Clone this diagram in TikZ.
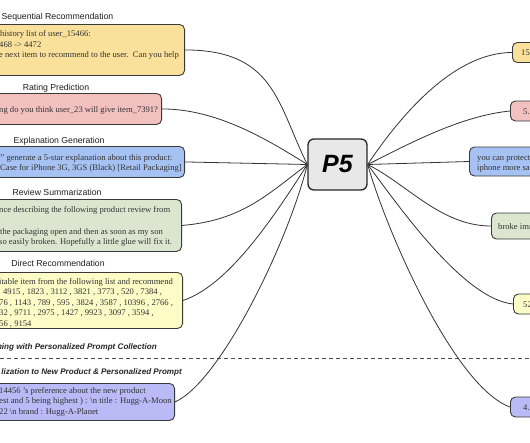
\documentclass[tikz,border=0pt]{standalone}
\usepackage{fontspec}
\setmainfont{Liberation Serif}
\setsansfont{Liberation Sans}
\definecolor{bordc}{HTML}{3A3A3A}
\definecolor{seqc}{HTML}{F9E19B}
\definecolor{ratc}{HTML}{F3C0C0}
\definecolor{expc}{HTML}{A6C2F2}
\definecolor{revc}{HTML}{DCE5CF}
\definecolor{dirc}{HTML}{FEFCC6}
\definecolor{newc}{HTML}{B9BAF6}
\definecolor{p5c}{HTML}{E8E8E8}
\begin{document}
\begin{tikzpicture}[x=1pt,y=-1pt,
  bx/.style={draw=bordc, line width=0.9pt, rounded corners=5pt, inner sep=0pt},
  ttl/.style={font=\sffamily\fontsize{8.7}{10}\selectfont, text=black!88, inner sep=0pt, anchor=base},
  bt/.style={font=\fontsize{8.6}{10}\selectfont, text=black!80, anchor=base west, inner sep=0pt},
  ital/.style={font=\sffamily\bfseries\itshape\fontsize{8.1}{9}\selectfont, text=black!85, inner sep=0pt, anchor=base east},
  cn/.style={draw=black!80, line width=0.8pt}]
\useasboundingbox (0,0) rectangle (530,442);
\clip (0,0) rectangle (530,442);
\fill[white] (0,0) rectangle (530,442);

% centre
\node[draw=black!85, line width=1.3pt, rounded corners=6pt, fill=p5c, minimum width=59pt, minimum height=51pt, inner sep=0pt,
  font=\sffamily\bfseries\itshape\fontsize{25}{25}\selectfont] (p5) at (337.5,164.5) {P5};

% dashed separator
\coordinate (dl) at (0,358);
\coordinate (dr) at (530,358);
\draw[gray!60!black, line width=0.8pt, dash pattern=on 4pt off 3pt] (dl) -- (dr);

% left boxes
\node[bx, fill=seqc, minimum width=215pt, minimum height=51pt, anchor=north east] (seq) at (185,24) {};
\node[bx, fill=ratc, minimum width=192pt, minimum height=31pt, anchor=north east] (rat) at (162,93) {};
\node[bx, fill=expc, minimum width=215pt, minimum height=31pt, anchor=north east] (exp) at (185,146) {};
\node[bx, fill=revc, minimum width=212pt, minimum height=52pt, anchor=north east] (rev) at (182,199) {};
\node[bx, fill=dirc, minimum width=213pt, minimum height=56pt, anchor=north east] (dir) at (183,272) {};
\node[bx, fill=newc, minimum width=205pt, minimum height=37pt, anchor=north east] (new) at (175,383) {};

% titles
\node[ttl] (tseq) at (57.5,19) {Sequential Recommendation};
\node[ttl] (trat) at (56,90) {Rating Prediction};
\node[ttl] (texp) at (59,143) {Explanation Generation};
\node[ttl] (trev) at (57,195.5) {Review Summarization};
\node[ttl] (tdir) at (58,266.5) {Direct Recommendation};
\node[ital] (tpc) at (157,349) {ning with Personalized Prompt Collection};
\node[ital] (tnp) at (182,374) {lization to New Product \& Personalized Prompt};

% left texts
\node[bt] (s1) at (0,36.5) {history list of user\_15466:};
\node[bt] (s2) at (-1,47) {468 -> 4472};
\node[bt] (s3) at (-1,57.5) {e next item to recommend to the user.\ \ Can you help};
\node[bt] (r1) at (-1,112) {ng do you think user\_23 will give item\_7391?};
\node[bt] (e1) at (-2,160) {/" generate a 5-star explanation about this product:};
\node[bt] (e2) at (0,170.5) {Case for iPhone 3G, 3GS (Black) [Retail Packaging]};
\node[bt] (v1) at (-1,212) {nce describing the following product review from};
\node[bt] (v2) at (0,234) {the packaging open and then as soon as my son};
\node[bt] (v3) at (-1,244.5) {so easily broken. Hopefully a little glue will fix it.};
\node[bt] (d1) at (-1,284) {itable item from the following list and recommend};
\node[bt] (d2) at (3,294.5) {4915 , 1823 , 3112 , 3821 , 3773 , 520 , 7384 ,};
\node[bt] (d3) at (-1,305) {76 , 1143 , 789 , 595 , 3824 , 3587 , 10396 , 2766 ,};
\node[bt] (d4) at (-1,315.5) {32 , 9711 , 2975 , 1427 , 9923 , 3097 , 3594 ,};
\node[bt] (d5) at (-1,326) {56 , 9154};
\node[bt] (n1) at (-1,393) {14456 's preference about the new product};
\node[bt] (n2) at (-1,403.5) {est and 5 being highest ) : \textbackslash n title : Hugg-A-Moon};
\node[bt] (n3) at (-1,414) {22 \textbackslash n brand : Hugg-A-Planet};

% right boxes
\node[bx, fill=seqc, minimum width=40pt, minimum height=20pt, anchor=west] (o1) at (512,52.5) {};
\node[bx, fill=ratc, minimum width=40pt, minimum height=20pt, anchor=west] (o2) at (510,111) {};
\node[bx, fill=expc, minimum width=90pt, minimum height=29pt, anchor=west] (o3) at (469,161.5) {};
\node[bx, fill=revc, minimum width=60pt, minimum height=26pt, anchor=west] (o4) at (491,226) {};
\node[bx, fill=dirc, minimum width=40pt, minimum height=20pt, anchor=west] (o5) at (513,304) {};
\node[bx, fill=newc, minimum width=40pt, minimum height=20pt, anchor=west] (o6) at (510,407) {};

\node[bt] (a1) at (521,55.5) {15};
\node[bt] (a2) at (523,114) {5.};
\node[bt] (a3) at (477,160) {you can protect};
\node[bt] (a4) at (477,170) {iphone more safe};
\node[bt] (a5) at (498,229) {broke imm};
\node[bt] (a6) at (523,307) {52};
\node[bt] (a7) at (523,410) {4.};

% left connectors
\draw[cn] (seq.east) .. controls +(90,0) and +(-30,-60) .. (p5.west);
\draw[cn] (rat.east) .. controls +(55,0) and +(-40,-25) .. (p5.west);
\draw[cn] (exp.east) -- (p5.west);
\draw[cn] (rev.east) .. controls +(60,-5) and +(-40,30) .. (p5.west);
\draw[cn] (dir.east) .. controls +(45,-15) and +(-35,55) .. (p5.west);
\draw[cn] (new.east) .. controls +(45,-20) and +(-20,80) .. (p5.west);

% right connectors
\draw[cn] (p5.east) .. controls +(30,-45) and +(-60,0) .. (o1.west);
\draw[cn] (p5.east) .. controls +(40,-20) and +(-50,5) .. (o2.west);
\draw[cn] (p5.east) -- (o3.west);
\draw[cn] (p5.east) .. controls +(40,20) and +(-50,0) .. (o4.west);
\draw[cn] (p5.east) .. controls +(30,40) and +(-50,-5) .. (o5.west);
\draw[cn] (p5.east) .. controls +(20,70) and +(-55,-20) .. (o6.west);
\end{tikzpicture}
\end{document}
